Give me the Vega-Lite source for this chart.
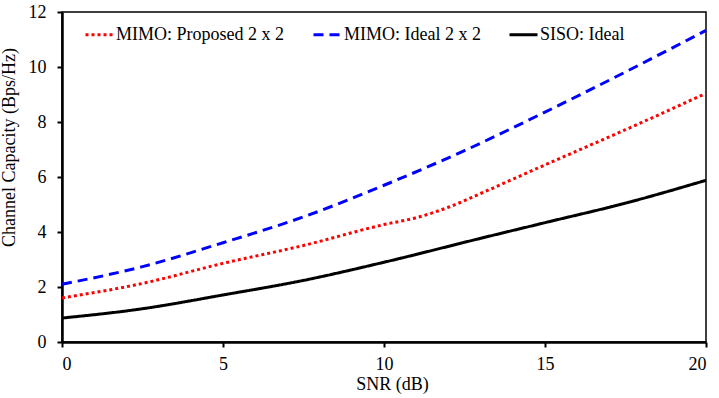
{
  "$schema": "https://vega.github.io/schema/vega-lite/v6.json",
  "width": 644,
  "height": 330,
  "autosize": {"type": "none"},
  "padding": {"left": 62, "top": 12, "right": 13, "bottom": 56},
  "background": "white",
  "config": {
    "view": {"stroke": "black", "strokeWidth": 1.5},
    "font": "Liberation Serif",
    "axis": {
      "grid": false,
      "domainColor": "black",
      "domainWidth": 2.5,
      "tickColor": "black",
      "tickWidth": 2,
      "tickSize": 5,
      "labelFont": "Liberation Serif",
      "labelFontSize": 18,
      "labelColor": "black",
      "titleFont": "Liberation Serif",
      "titleFontSize": 18,
      "titleFontWeight": "normal",
      "titleColor": "black"
    },
    "legend": {
      "labelFont": "Liberation Serif"
    }
  },
  "data": {
    "values": [
      {"snr": 0, "cap": 1.60, "series": "MIMO: Proposed 2 x 2"},
      {"snr": 2.5, "cap": 2.13, "series": "MIMO: Proposed 2 x 2"},
      {"snr": 5, "cap": 2.86, "series": "MIMO: Proposed 2 x 2"},
      {"snr": 7.5, "cap": 3.51, "series": "MIMO: Proposed 2 x 2"},
      {"snr": 10, "cap": 4.27, "series": "MIMO: Proposed 2 x 2"},
      {"snr": 11, "cap": 4.52, "series": "MIMO: Proposed 2 x 2"},
      {"snr": 12, "cap": 4.90, "series": "MIMO: Proposed 2 x 2"},
      {"snr": 13, "cap": 5.40, "series": "MIMO: Proposed 2 x 2"},
      {"snr": 14, "cap": 5.92, "series": "MIMO: Proposed 2 x 2"},
      {"snr": 15, "cap": 6.44, "series": "MIMO: Proposed 2 x 2"},
      {"snr": 16, "cap": 6.95, "series": "MIMO: Proposed 2 x 2"},
      {"snr": 17.5, "cap": 7.72, "series": "MIMO: Proposed 2 x 2"},
      {"snr": 20, "cap": 9.04, "series": "MIMO: Proposed 2 x 2"},
      {"snr": 0, "cap": 2.10, "series": "MIMO: Ideal 2 x 2"},
      {"snr": 2.5, "cap": 2.74, "series": "MIMO: Ideal 2 x 2"},
      {"snr": 5, "cap": 3.61, "series": "MIMO: Ideal 2 x 2"},
      {"snr": 7.5, "cap": 4.55, "series": "MIMO: Ideal 2 x 2"},
      {"snr": 10, "cap": 5.70, "series": "MIMO: Ideal 2 x 2"},
      {"snr": 12.5, "cap": 6.96, "series": "MIMO: Ideal 2 x 2"},
      {"snr": 15, "cap": 8.36, "series": "MIMO: Ideal 2 x 2"},
      {"snr": 17.5, "cap": 9.82, "series": "MIMO: Ideal 2 x 2"},
      {"snr": 20, "cap": 11.33, "series": "MIMO: Ideal 2 x 2"},
      {"snr": 0, "cap": 0.87, "series": "SISO: Ideal"},
      {"snr": 2.5, "cap": 1.21, "series": "SISO: Ideal"},
      {"snr": 5, "cap": 1.71, "series": "SISO: Ideal"},
      {"snr": 7.5, "cap": 2.24, "series": "SISO: Ideal"},
      {"snr": 10, "cap": 2.90, "series": "SISO: Ideal"},
      {"snr": 13, "cap": 3.77, "series": "SISO: Ideal"},
      {"snr": 15, "cap": 4.34, "series": "SISO: Ideal"},
      {"snr": 17.5, "cap": 5.05, "series": "SISO: Ideal"},
      {"snr": 20, "cap": 5.88, "series": "SISO: Ideal"}
    ]
  },
  "mark": {"type": "line", "strokeWidth": 3, "interpolate": "monotone"},
  "encoding": {
    "x": {
      "field": "snr",
      "type": "quantitative",
      "title": "SNR (dB)",
      "scale": {"domain": [0, 20], "nice": false},
      "axis": {"values": [0, 5, 10, 15, 20], "labelPadding": 8, "titlePadding": 2, "titleX": 330}
    },
    "y": {
      "field": "cap",
      "type": "quantitative",
      "title": "Channel Capacity (Bps/Hz)",
      "scale": {"domain": [0, 12], "nice": false},
      "axis": {"values": [0, 2, 4, 6, 8, 10, 12], "labelPadding": 11, "titleX": -44, "titleY": 135}
    },
    "color": {
      "field": "series",
      "type": "nominal",
      "sort": ["MIMO: Proposed 2 x 2", "MIMO: Ideal 2 x 2", "SISO: Ideal"],
      "scale": {
        "domain": ["MIMO: Proposed 2 x 2", "MIMO: Ideal 2 x 2", "SISO: Ideal"],
        "range": ["#ff0000", "#0000ff", "#000000"]
      },
      "legend": {
        "title": null,
        "orient": "none",
        "direction": "horizontal",
        "legendX": 22,
        "legendY": 7,
        "symbolType": "stroke",
        "symbolSize": 784,
        "symbolStrokeWidth": 3,
        "labelFontSize": 18,
        "labelColor": "black",
        "labelOffset": 1,
        "columnPadding": 22,
        "labelLimit": 300
      }
    },
    "strokeDash": {
      "field": "series",
      "type": "nominal",
      "sort": ["MIMO: Proposed 2 x 2", "MIMO: Ideal 2 x 2", "SISO: Ideal"],
      "scale": {
        "domain": ["MIMO: Proposed 2 x 2", "MIMO: Ideal 2 x 2", "SISO: Ideal"],
        "range": [[3, 3], [10, 6], [1, 0]]
      },
      "legend": null
    }
  }
}
